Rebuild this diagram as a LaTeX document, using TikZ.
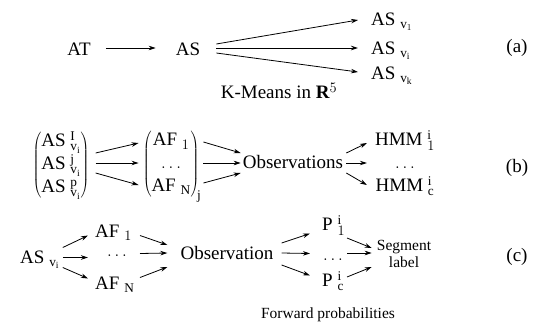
\documentclass[tikz,border=0pt]{standalone}
\usepackage{fontspec}
\setmainfont{Liberation Serif}
\usetikzlibrary{arrows.meta,calc}
\begin{document}
\begin{tikzpicture}[x=1pt,y=-1pt,
  txt/.style={inner sep=0pt,font=\fontsize{19}{23}\selectfont},
  small/.style={inner sep=0pt,font=\fontsize{15.5}{17}\selectfont},
  arr/.style={-{Stealth[length=7pt,width=4.5pt]},line width=0.8pt}]
\useasboundingbox (0,0) rectangle (536,327);
% ---------- row (a)
\node[txt] (AT) at (79,49) {AT};
\node[txt] (AS) at (188,49) {AS};
\draw[arr] ($(AT.east)+(15,-1)$) -- ($(AS.west)+(-20,-1)$);
\node[txt,anchor=base west] (v1) at (371,25.5) {$\mathrm{AS}\;{}_{\mathrm{v}_1}$};
\node[txt,anchor=base west] (vi) at (371,54.5) {$\mathrm{AS}\;{}_{\mathrm{v}_\mathrm{i}}$};
\node[txt,anchor=base west] (vk) at (371,79.5) {$\mathrm{AS}\;{}_{\mathrm{v}_\mathrm{k}}$};
\draw[arr] ($(AS.east)+(16,-5)$) -- ($(v1.base west)+(-13,-5.5)$);
\draw[arr] ($(AS.east)+(16,-1)$) -- ($(vi.base west)+(-13,-6.5)$);
\draw[arr] ($(AS.east)+(16,4)$) -- ($(vk.base west)+(-13,-7.5)$);
\node[txt] (km) at (279,91) {K-Means in $\textbf{R}^5$};
\node[txt] (la) at (517,48) {(a)};
% ---------- row (b)
\node[txt] (G1) at (61,165) {$\left(\begin{array}{@{}l@{}}
  \mathrm{AS}\;{}^{\mathrm{I}}_{\mathrm{v}_\mathrm{i}}\\
  \mathrm{AS}\;{}^{\mathrm{j}}_{\mathrm{v}_\mathrm{i}}\\
  \mathrm{AS}\;{}^{\mathrm{p}}_{\mathrm{v}_\mathrm{i}}
  \end{array}\right)$};
\node[txt] (G2) at (172,166) {$\left(\begin{array}{@{}c@{}}
  \mathrm{AF}\;{}_1\\
  \dots\\
  \mathrm{AF}\;{}_\mathrm{N}
  \end{array}\right)_{\!\mathrm{j}}$};
\node[txt] (Obsb) at (293,162) {Observations};
\node[txt] (G3) at (405,164) {$\begin{array}{@{}c@{}}
  \mathrm{HMM}\;{}^{\mathrm{i}}_1\\
  \dots\\
  \mathrm{HMM}\;{}^{\mathrm{i}}_\mathrm{c}
  \end{array}$};
\node[txt] (lb) at (517,168) {(b)};
\draw[arr] ($(G1.east)+(6,-12)$) -- ($(G2.west)+(-4,-23)$);
\draw[arr] ($(G1.east)+(6,-2)$) -- ($(G2.west)+(-4,-3)$);
\draw[arr] ($(G1.east)+(6,8)$) -- ($(G2.west)+(-4,19)$);
\draw[arr] ($(G2.east)+(2,-24)$) -- ($(Obsb.west)+(-2,-9)$);
\draw[arr] ($(G2.east)+(2,-3)$) -- ($(Obsb.west)+(-2,1)$);
\draw[arr] ($(G2.east)+(2,17)$) -- ($(Obsb.west)+(-2,11)$);
\draw[arr] ($(Obsb.east)+(3,-9)$) -- ($(G3.west)+(-8,-21)$);
\draw[arr] ($(Obsb.east)+(3,1)$) -- ($(G3.west)+(-8,-1)$);
\draw[arr] ($(Obsb.east)+(3,11)$) -- ($(G3.west)+(-8,21)$);
% ---------- row (c)
\node[txt,anchor=base west] (ASc) at (20,263.5) {$\mathrm{AS}\;{}_{\mathrm{v}_\mathrm{i}}$};
\node[txt,anchor=base west] (AF1) at (95,237.5) {$\mathrm{AF}\;{}_1$};
\node[txt,anchor=base] (dc1) at (117,256) {$\dots$};
\node[txt,anchor=base west] (AFN) at (95,289.5) {$\mathrm{AF}\;{}_\mathrm{N}$};
\node[txt] (Obsc) at (227,253) {Observation};
\node[txt,anchor=base west] (P1) at (322,230.5) {$\mathrm{P}\;{}^\mathrm{i}_1$};
\node[txt,anchor=base] (dc2) at (333,260) {$\dots$};
\node[txt,anchor=base west] (Pc) at (322,286.5) {$\mathrm{P}\;{}^\mathrm{i}_\mathrm{c}$};
\node[small,align=center] (Seg) at (404,254) {Segment\\label};
\node[txt] (lc) at (517,257) {(c)};
\node[small] (fw) at (328,315) {Forward probabilities};
\draw[arr] ($(ASc.base east)+(3,-16)$) -- ($(AF1.base west)+(-7,-2)$);
\draw[arr] ($(ASc.base east)+(3,-6)$) -- ($(AF1.base west)+(-7,20)$);
\draw[arr] ($(ASc.base east)+(3,4)$) -- ($(AFN.base west)+(-7,-11)$);
\draw[arr] ($(AF1.base west)+(45,-2)$) -- ($(Obsc.west)+(-13,-8)$);
\draw[arr] ($(AF1.base west)+(45,16)$) -- ($(Obsc.west)+(-13,0)$);
\draw[arr] ($(AFN.base west)+(45,-12)$) -- ($(Obsc.west)+(-13,14)$);
\draw[arr] ($(Obsc.east)+(8,-10)$) -- ($(P1.base west)+(-12,3)$);
\draw[arr] ($(Obsc.east)+(8,0)$) -- ($(P1.base west)+(-12,23)$);
\draw[arr] ($(Obsc.east)+(8,12)$) -- ($(Pc.base west)+(-12,-11)$);
\draw[arr] ($(P1.base west)+(25,7.5)$) -- ($(Seg.west)+(-5,-6)$);
\draw[arr] ($(P1.base west)+(25,22.5)$) -- ($(Seg.west)+(-5,-1)$);
\draw[arr] ($(Pc.base west)+(25,-9.5)$) -- ($(Seg.west)+(-5,13)$);
\end{tikzpicture}
\end{document}
